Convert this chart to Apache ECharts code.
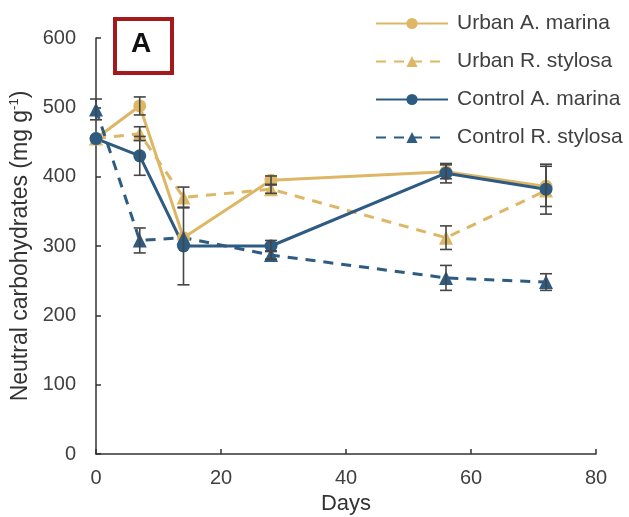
<!DOCTYPE html>
<html><head><meta charset="utf-8">
<script src="https://cdn.jsdelivr.net/npm/echarts@6/dist/echarts.min.js"></script>
<style>html,body{margin:0;padding:0;background:#fff}#c{width:629px;height:517px}</style>
</head><body><div id="c"></div>
<script>
var days = [0, 7, 14, 28, 56, 72];
var seriesNames = ['Urban A. marina', 'Urban R. stylosa', 'Control A. marina', 'Control R. stylosa'];
var urbanAM = [455, 502, 312, 395, 407, 386];
var urbanAMErr = [0, 13, 0, 6, 10, 29];
var urbanRS = [455, 462, 370, 382, 312, 380];
var urbanRSErr = [0, 10, 15, 6, 17, 0];
var controlAM = [455, 430, 300, 300, 405, 382];
var controlAMErr = [0, 28, 56, 8, 14, 36];
var controlRS = [497, 308, 312, 287, 254, 248];
var controlRSErr = [15, 18, 0, 6, 18, 12];
var xTicks = [0, 20, 40, 60, 80];
var yTicks = [0, 100, 200, 300, 400, 500, 600];

var GOLD = '#DDB765', BLUE = '#2E5B82', ERR = '#454545';
var FONT = 'Liberation Sans, Arial, sans-serif';

function pts(vals){ return days.map(function(d,i){ return [d, vals[i]]; }); }
function errData(vals, errs){
  var out = [];
  days.forEach(function(d,i){ if (errs[i] > 0) out.push([d, vals[i]-errs[i], vals[i]+errs[i]]); });
  return out;
}
function lineSeries(name, vals, color, dashed, symbol){
  return {
    name: name, type: 'line', data: pts(vals), symbol: symbol, symbolSize: symbol === 'circle' ? 13 : 14,
    lineStyle: {color: color, width: 3, type: dashed ? [10, 8] : 'solid'},
    itemStyle: {color: color}, z: 3, animation: false
  };
}
function errSeries(vals, errs){
  return {
    type: 'custom', data: errData(vals, errs), z: 5, silent: true, animation: false,
    renderItem: function(params, api){
      var x = api.value(0);
      var lo = api.coord([x, api.value(1)]);
      var hi = api.coord([x, api.value(2)]);
      var w = 6;
      var st = {stroke: ERR, lineWidth: 1.6};
      return {type: 'group', children: [
        {type: 'line', shape: {x1: lo[0], y1: lo[1], x2: hi[0], y2: hi[1]}, style: st},
        {type: 'line', shape: {x1: lo[0]-w, y1: lo[1], x2: lo[0]+w, y2: lo[1]}, style: st},
        {type: 'line', shape: {x1: hi[0]-w, y1: hi[1], x2: hi[0]+w, y2: hi[1]}, style: st}
      ]};
    }
  };
}

var chart = echarts.init(document.getElementById('c'), null, {renderer: 'canvas'});
chart.setOption({
  animation: false,
  textStyle: {fontFamily: FONT},
  grid: {left: 96, right: 33, top: 38, bottom: 63, containLabel: false, outerBoundsMode: 'none'},
  xAxis: {
    type: 'value', min: xTicks[0], max: xTicks[xTicks.length-1], interval: 20,
    name: 'Days', nameLocation: 'middle', nameGap: 38,
    nameTextStyle: {fontSize: 22, color: '#333', fontFamily: FONT},
    axisLine: {lineStyle: {color: '#333', width: 1.5}},
    axisTick: {inside: true, length: 5, lineStyle: {color: '#333', width: 1.5}},
    axisLabel: {fontSize: 20, color: '#404040', margin: 14, fontFamily: FONT},
    splitLine: {show: false}
  },
  yAxis: {
    type: 'value', min: yTicks[0], max: yTicks[yTicks.length-1], interval: 100,
    name: '{a|Neutral carbohydrates (mg g}{s|-1}{a|)}', nameLocation: 'middle', nameGap: 62, nameRotate: 90,
    nameTextStyle: {rich: {
      a: {fontSize: 23, color: '#333', fontFamily: FONT},
      s: {fontSize: 13, color: '#333', fontFamily: FONT, verticalAlign: 'top', padding: [0, 0, 11, 0]}
    }},
    axisLine: {show: true, lineStyle: {color: '#333', width: 1.5}},
    axisTick: {show: true, inside: true, length: 5, lineStyle: {color: '#333', width: 1.5}},
    axisLabel: {fontSize: 20, color: '#404040', margin: 20, fontFamily: FONT},
    splitLine: {show: false}
  },
  legend: {
    orient: 'vertical', left: 370, top: 8, itemWidth: 72, itemHeight: 14, itemGap: 17,
    data: seriesNames,
    textStyle: {fontSize: 21, color: '#404040', fontFamily: FONT, padding: [0, 0, 0, 4]}
  },
  graphic: [
    {type: 'rect', left: 113, top: 17, shape: {width: 57, height: 54}, style: {fill: '#fff', stroke: '#A5181C', lineWidth: 4}, z: 10},
    {type: 'text', left: 131, top: 30, style: {text: 'A', font: 'bold 28px ' + FONT, fill: '#111'}, z: 11}
  ],
  series: [
    lineSeries(seriesNames[0], urbanAM, GOLD, false, 'circle'),
    lineSeries(seriesNames[1], urbanRS, GOLD, true, 'triangle'),
    lineSeries(seriesNames[2], controlAM, BLUE, false, 'circle'),
    lineSeries(seriesNames[3], controlRS, BLUE, true, 'triangle'),
    errSeries(urbanAM, urbanAMErr),
    errSeries(urbanRS, urbanRSErr),
    errSeries(controlAM, controlAMErr),
    errSeries(controlRS, controlRSErr)
  ]
});
</script></body></html>
